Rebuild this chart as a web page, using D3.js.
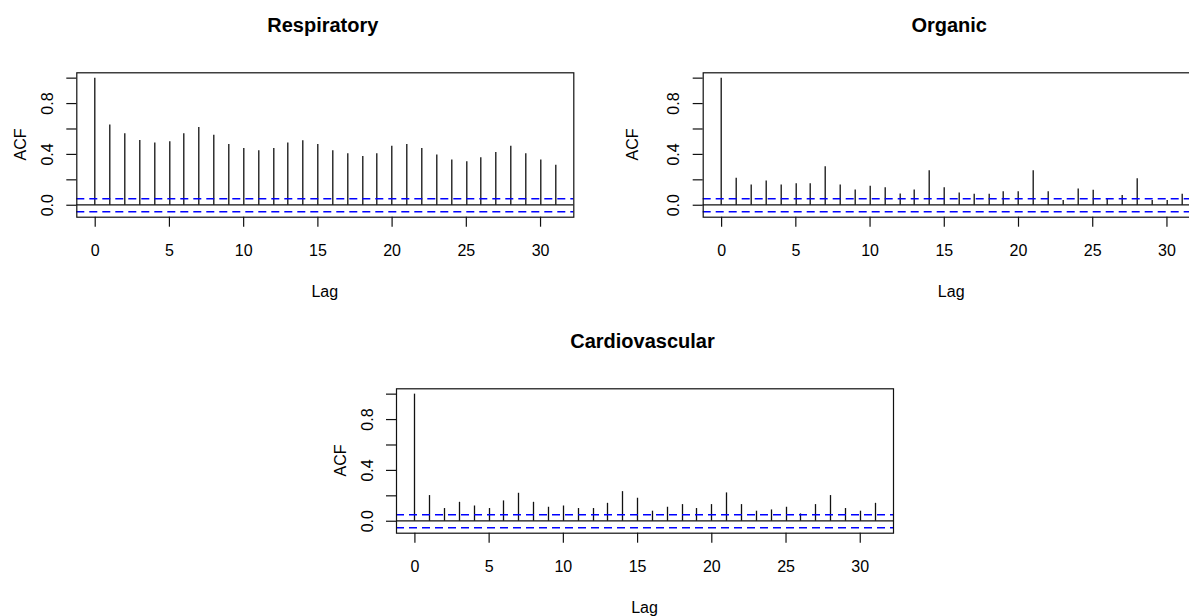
<!DOCTYPE html>
<html>
<head>
<meta charset="utf-8">
<script src="https://cdn.jsdelivr.net/npm/d3@7"></script>
<style>
  html, body { margin: 0; padding: 0; background: #fff; }
  svg { display: block; font-family: "Liberation Sans", Arial, sans-serif; }
</style>
</head>
<body>
<svg id="chart" width="1189" height="616"></svg>
<script>
// Autocorrelation by lag for three daily admission series
const lags = d3.range(0, 32);
const respiratory = [1.0, 0.632, 0.562, 0.51, 0.489, 0.499, 0.562, 0.611, 0.551, 0.478,
  0.447, 0.429, 0.447, 0.489, 0.507, 0.478, 0.429, 0.405, 0.384, 0.405,
  0.465, 0.478, 0.447, 0.395, 0.355, 0.342, 0.374, 0.415, 0.465, 0.405,
  0.355, 0.314];
const organic = [1.0, 0.212, 0.159, 0.191, 0.159, 0.170, 0.170, 0.303, 0.159, 0.120,
  0.149, 0.138, 0.089, 0.120, 0.272, 0.138, 0.097, 0.086, 0.086, 0.107,
  0.107, 0.272, 0.107, 0.037, 0.128, 0.118, 0.047, 0.076, 0.209, 0.037,
  0.037, 0.086];
const cardiovascular = [1.0, 0.202, 0.10, 0.149, 0.12, 0.10, 0.16, 0.22, 0.149, 0.11,
  0.12, 0.10, 0.10, 0.141, 0.233, 0.181, 0.079, 0.11, 0.131, 0.10,
  0.131, 0.223, 0.131, 0.079, 0.089, 0.11, 0.058, 0.131, 0.202, 0.10,
  0.079, 0.141];
const titles = ["Respiratory", "Organic", "Cardiovascular"];
const confBound = 0.052;           // 95% white-noise band
const xTicks = [0, 5, 10, 15, 20, 25, 30];
const yTicks = [0, 0.2, 0.4, 0.6, 0.8, 1.0];
const yTickLabels = { 0: "0.0", 0.4: "0.4", 0.8: "0.8" };

const svg = d3.select("#chart");
svg.append("rect").attr("width", 1189).attr("height", 616).attr("fill", "#fff");

const panels = [
  { title: titles[0], values: respiratory,    left: 76.3,  top: 72.3,  ylabOff: 50 },
  { title: titles[1], values: organic,        left: 702.7, top: 72.3,  ylabOff: 65 },
  { title: titles[2], values: cardiovascular, left: 396,   top: 388.3, ylabOff: 50 }
];
const boxW = 497, boxH = 144.4;

// R-style 4% axis extension
function extend(lo, hi) { const d = (hi - lo) * 0.04; return [lo - d, hi + d]; }

panels.forEach(p => {
  const g = svg.append("g").attr("transform", `translate(${p.left},${p.top})`);
  const x = d3.scaleLinear().domain(extend(0, lags[lags.length - 1])).range([0, boxW]);
  const yLo = Math.min(-confBound, d3.min(p.values));
  const yHi = Math.max(confBound, d3.max(p.values));
  const y = d3.scaleLinear().domain(extend(yLo, yHi)).range([boxH, 0]);

  // vertical ACF spikes
  g.selectAll("line.spike").data(p.values).join("line")
    .attr("class", "spike")
    .attr("x1", (d, i) => Math.round(x(lags[i])) + 0.5)
    .attr("x2", (d, i) => Math.round(x(lags[i])) + 0.5)
    .attr("y1", y(0))
    .attr("y2", d => y(d))
    .attr("stroke", "#111").attr("stroke-width", 1.3);

  // zero line
  g.append("line")
    .attr("x1", 0).attr("x2", boxW)
    .attr("y1", Math.round(y(0)) + 0.5).attr("y2", Math.round(y(0)) + 0.5)
    .attr("stroke", "#111").attr("stroke-width", 1.2);

  // confidence band
  [confBound, -confBound].forEach(c => {
    g.append("line")
      .attr("x1", 0).attr("x2", boxW)
      .attr("y1", Math.round(y(c)) + 0.5).attr("y2", Math.round(y(c)) + 0.5)
      .attr("stroke", "#0000ff").attr("stroke-width", 1.5)
      .attr("stroke-dasharray", "8,5");
  });

  // frame
  g.append("rect").attr("x", 0.5).attr("y", 0.5).attr("width", boxW).attr("height", boxH)
    .attr("fill", "none").attr("stroke", "#111").attr("stroke-width", 1.2);

  // x axis
  const xa = g.append("g").attr("transform", `translate(0,${boxH})`)
    .call(d3.axisBottom(x).tickValues(xTicks).tickSize(10).tickPadding(0).tickFormat(d3.format("d")));
  xa.select(".domain").remove();
  xa.selectAll("line").attr("stroke", "#111").attr("stroke-width", 1.2);
  xa.selectAll("text").attr("y", 39).attr("dy", 0)
    .attr("font-size", 16).attr("fill", "#000");

  // y axis with rotated labels
  const ya = g.append("g")
    .call(d3.axisLeft(y).tickValues(yTicks).tickSize(10).tickFormat(d => yTickLabels[d] || ""));
  ya.select(".domain").remove();
  ya.selectAll("line").attr("stroke", "#111").attr("stroke-width", 1.2);
  ya.selectAll("text")
    .attr("x", null).attr("dy", null)
    .attr("transform", "translate(-23.5,0) rotate(-90)")
    .attr("text-anchor", "middle")
    .attr("font-size", 16).attr("fill", "#000");

  // axis titles
  g.append("text").attr("x", boxW / 2).attr("y", boxH + 80)
    .attr("text-anchor", "middle").attr("font-size", 16).text("Lag");
  g.append("text")
    .attr("transform", `translate(${-p.ylabOff},${boxH / 2}) rotate(-90)`)
    .attr("text-anchor", "middle").attr("font-size", 16).text("ACF");

  // panel title
  g.append("text").attr("x", boxW / 2 - 2).attr("y", -40.6)
    .attr("text-anchor", "middle").attr("font-size", 20).attr("font-weight", "bold")
    .text(p.title);
});
</script>
</body>
</html>
